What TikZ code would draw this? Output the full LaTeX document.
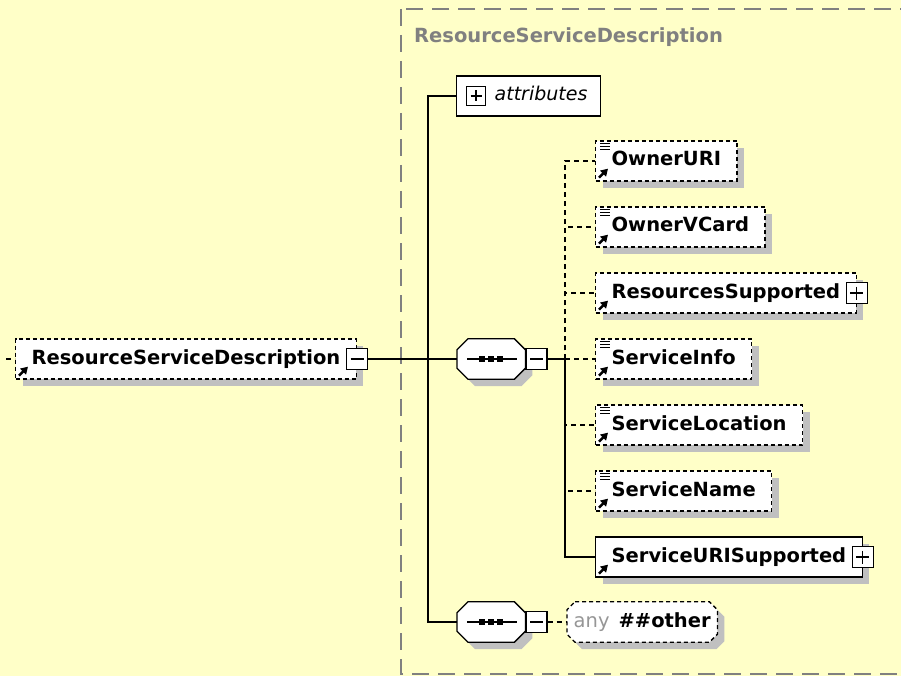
\documentclass[tikz,border=0pt]{standalone}
\usepackage{fontspec}
\setmainfont{DejaVu Sans}
\usetikzlibrary{shadows,arrows.meta,backgrounds}

\definecolor{paleyellow}{RGB}{255,255,200}
\definecolor{framegray}{RGB}{128,128,128}
\definecolor{anygray}{RGB}{150,150,150}
\definecolor{shadowgray}{RGB}{192,192,192}

\tikzset{
  labelfont/.style={font=\fontsize{19.5}{23}\selectfont\bfseries},
  boxshadow/.style={drop shadow={shadow xshift=7pt, shadow yshift=-7pt, fill=shadowgray, opacity=1}},
  elem/.style={draw, fill=white, dash pattern=on 4pt off 3pt, line width=1.3pt, labelfont,
    anchor=west, inner xsep=16pt, inner ysep=0pt, text height=14pt, text depth=4pt,
    minimum height=40pt, boxshadow},
  reqelem/.style={elem, solid},
  minusbox/.style={draw, solid, fill=white, line width=1.2pt, minimum size=21pt, inner sep=0pt,
    path picture={\draw[line width=1.2pt] ([xshift=4pt]path picture bounding box.west)
      -- ([xshift=-4pt]path picture bounding box.east);}},
  plusbox/.style={draw, solid, fill=white, line width=1.2pt, minimum size=21pt, inner sep=0pt,
    path picture={\draw[line width=1.2pt] ([xshift=4pt]path picture bounding box.west)
      -- ([xshift=-4pt]path picture bounding box.east);
      \draw[line width=1.2pt] ([yshift=-4pt]path picture bounding box.north)
      -- ([yshift=4pt]path picture bounding box.south);}},
  seqbox/.style={minimum width=68pt, minimum height=40pt, inner sep=0pt, anchor=west},
  anybox/.style={labelfont, minimum width=150pt, minimum height=40pt, inner xsep=2pt, inner ysep=0pt,
    text height=14pt, text depth=4pt, anchor=west},
  octsolid/.style={draw, fill=white, line width=1.3pt, boxshadow},
  octdash/.style={octsolid, dash pattern=on 4pt off 3pt},
  conn/.style={line width=1.6pt},
  optline/.style={line width=1.4pt, dash pattern=on 5pt off 4pt},
  groupframe/.style={draw=framegray, line width=1.5pt, dash pattern=on 17pt off 9pt},
  refarrow/.style={line width=2.4pt, -{Triangle[length=7pt,width=8pt]}},
}

\begin{document}
\begin{tikzpicture}[x=1pt, y=-1pt]
  \useasboundingbox (0,0) rectangle (901,676);
  \begin{scope}[on background layer]
    \fill[paleyellow] (0,0) rectangle (901,676);
    % group frame
    \draw[groupframe] (401,9) rectangle (930,674);
  \end{scope}
  \node[labelfont, text=framegray, anchor=west, inner sep=0pt] (grouptitle) at (414,37) {ResourceServiceDescription};

  % root element
  \node[elem] (root) at (15,359) {ResourceServiceDescription\hspace{19pt}};
  \node[minusbox] (rootx) at (root.east) {};
  \coordinate (rootin) at (6,359);

  % attributes
  \node[draw, fill=white, line width=1.3pt, anchor=west, minimum height=40pt, inner xsep=13pt,
        font=\fontsize{19}{23}\selectfont\itshape, text height=14pt, text depth=4pt] (attr) at (456,96) {\hspace{25pt}attributes};
  \node[plusbox, minimum size=19pt] (attrx) at ([xshift=20pt]attr.west) {};

  % compositors
  \node[seqbox] (seq1) at (457,359) {};
  \node[minusbox, anchor=west] (seq1x) at (seq1.east) {};
  \node[seqbox] (seq2) at (457,622) {};
  \node[minusbox, anchor=west] (seq2x) at (seq2.east) {};

  % child elements
  \node[elem] (owneruri) at (595,161) {OwnerURI};
  \node[elem] (ownervcard) at (595,227) {OwnerVCard};
  \node[elem] (ressup) at (595,293) {ResourcesSupported\hspace{18pt}};
  \node[plusbox] (ressupx) at (ressup.east) {};
  \node[elem] (svcinfo) at (595,359) {ServiceInfo};
  \node[elem] (svcloc) at (595,425) {ServiceLocation};
  \node[elem] (svcname) at (595,491) {ServiceName};
  \node[reqelem] (svcuri) at (595,557) {ServiceURISupported\hspace{14pt}};
  \node[plusbox] (svcurix) at (svcuri.east) {};
  \node[anybox] (anyother) at (567,622) {\textcolor{anygray}{\mdseries any}\hspace{9pt}\#\#other};

  % octagon outlines
  \begin{scope}[on background layer]
    \foreach \n/\s/\c in {seq1/octsolid/11, seq2/octsolid/11, anyother/octdash/8}
      \draw[\s] ([xshift=\c pt]\n.north west) -- ([xshift=-\c pt]\n.north east)
        -- ([yshift=-\c pt]\n.north east) -- ([yshift=\c pt]\n.south east)
        -- ([xshift=-\c pt]\n.south east) -- ([xshift=\c pt]\n.south west)
        -- ([yshift=\c pt]\n.south west) -- ([yshift=-\c pt]\n.north west) -- cycle;
  \end{scope}
  \foreach \n in {seq1,seq2} {
    \draw[line width=1.3pt] ([xshift=10pt]\n.west) -- ([xshift=-8pt]\n.east);
    \foreach \d in {-9,0,9}
      \fill ([xshift=\d pt]\n.center) +(-2.8pt,-2.8pt) rectangle +(2.8pt,2.8pt);
  }

  % icons
  \foreach \n in {root,owneruri,ownervcard,ressup,svcinfo,svcloc,svcname,svcuri}
    \draw[refarrow] ([shift={(4pt,4pt)}]\n.south west) -- ([shift={(13pt,13pt)}]\n.south west);
  \foreach \n in {owneruri,ownervcard,svcinfo,svcloc,svcname}
    \foreach \k in {3,6,9}
      \draw[line width=1.2pt] ([shift={(5pt,-\k pt)}]\n.north west) -- ++(10pt,0);

  % connectors
  \coordinate (trunk) at (428,359);
  \coordinate (branch) at (565,359);
  \draw[optline] (rootin) -- (root.west);
  \draw[conn] (rootx.east) -- (seq1.west);
  \draw[conn] (attr.west) -| (trunk) |- (seq2.west);
  \draw[conn] (seq1x.east) -- (branch);
  \draw[optline] (branch) |- (owneruri.west);
  \draw[optline] (branch) |- (ownervcard.west);
  \draw[optline] (branch) |- (ressup.west);
  \draw[optline] (branch) -- (svcinfo.west);
  \draw[optline] (branch) |- (svcloc.west);
  \draw[optline] (branch) |- (svcname.west);
  \draw[conn] (branch) |- (svcuri.west);
  \draw[optline] (seq2x.east) -- (anyother.west);
\end{tikzpicture}
\end{document}
